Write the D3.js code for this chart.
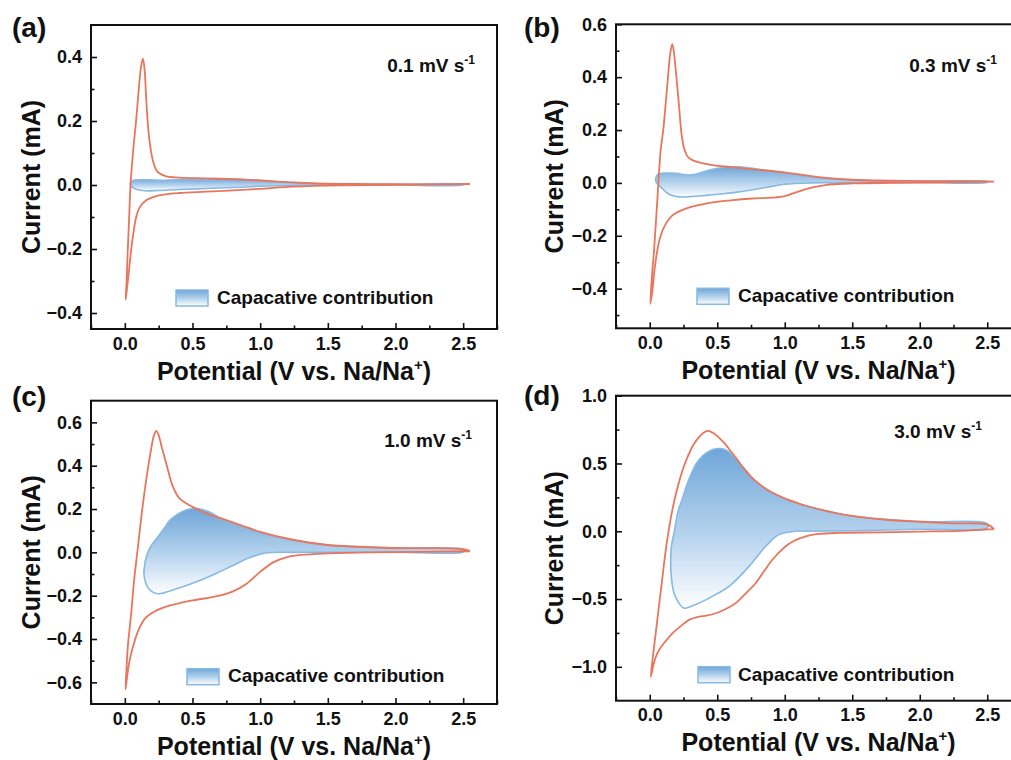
<!DOCTYPE html>
<html>
<head>
<meta charset="utf-8">
<script src="https://cdn.jsdelivr.net/npm/d3@7"></script>
<style>
  html, body { margin: 0; padding: 0; background: #fff; }
  svg { display: block; }
  text { font-family: "Liberation Sans", Arial, sans-serif; font-weight: bold; fill: #111; }
</style>
</head>
<body>
<svg id="chart" width="1011" height="760"></svg>
<script>
// ---------- data: cyclic voltammograms (V vs Na/Na+, mA) ----------
// Full CV loops: cathodic sweep from 2.55 V down to 0 V, then anodic sweep back up.
const cvA = [
  [2.55,0.003],[2.2,0.001],[1.8,0.0],[1.5,-0.002],[1.2,-0.006],[1.0,-0.012],[0.8,-0.017],[0.6,-0.021],
  [0.4,-0.025],[0.3,-0.029],[0.22,-0.036],[0.16,-0.047],[0.11,-0.07],[0.084,-0.1],[0.06,-0.16],
  [0.045,-0.21],[0.03,-0.27],[0.017,-0.32],[0.006,-0.358],
  [0.013,-0.3],[0.022,-0.2],[0.032,-0.1],[0.042,0.0],[0.06,0.1],[0.083,0.2],[0.103,0.3],[0.12,0.37],
  [0.134,0.395],[0.146,0.36],[0.158,0.27],[0.172,0.18],[0.188,0.12],[0.21,0.072],[0.24,0.042],
  [0.3,0.028],[0.4,0.023],[0.6,0.021],[0.8,0.018],[1.0,0.014],[1.2,0.009],[1.4,0.005],[1.8,0.003],
  [2.2,0.002],[2.55,0.003]
];
const cvB = [
  [2.55,0.005],[2.2,0.002],[1.8,0.0],[1.5,-0.002],[1.3,-0.008],[1.2,-0.018],[1.1,-0.033],[1.0,-0.05],
  [0.9,-0.056],[0.76,-0.059],[0.6,-0.066],[0.415,-0.078],[0.267,-0.097],[0.168,-0.123],[0.106,-0.167],
  [0.075,-0.21],[0.056,-0.255],[0.035,-0.33],[0.02,-0.407],[0.004,-0.458],
  [0.018,-0.34],[0.032,-0.255],[0.056,-0.066],[0.081,0.124],[0.1,0.2],[0.118,0.3],[0.135,0.4],
  [0.152,0.49],[0.167,0.525],[0.18,0.49],[0.19,0.44],[0.203,0.37],[0.217,0.29],[0.235,0.187],
  [0.255,0.13],[0.28,0.1],[0.316,0.086],[0.464,0.067],[0.6,0.06],[0.75,0.052],[1.0,0.04],[1.25,0.022],
  [1.5,0.012],[2.0,0.007],[2.5,0.006],[2.55,0.005]
];
const cvC = [
  [2.55,0.005],[2.2,0.002],[1.8,0.0],[1.5,-0.005],[1.3,-0.012],[1.2,-0.022],[1.1,-0.045],[1.0,-0.09],
  [0.9,-0.145],[0.8,-0.18],[0.7,-0.2],[0.5,-0.222],[0.4,-0.235],[0.3,-0.252],[0.2,-0.28],[0.15,-0.305],
  [0.1,-0.36],[0.06,-0.436],[0.035,-0.5],[0.02,-0.56],[0.005,-0.632],
  [0.012,-0.54],[0.022,-0.436],[0.047,-0.28],[0.07,-0.12],[0.097,0.026],[0.125,0.18],[0.158,0.334],
  [0.19,0.46],[0.215,0.54],[0.232,0.561],[0.25,0.54],[0.275,0.48],[0.306,0.41],[0.355,0.303],
  [0.404,0.249],[0.5,0.21],[0.6,0.18],[0.75,0.149],[1.0,0.095],[1.25,0.057],[1.5,0.034],[2.0,0.02],
  [2.5,0.015],[2.55,0.005]
];
const cvD = [
  [2.55,0.015],[2.3,0.003],[2.0,-0.003],[1.7,-0.008],[1.4,-0.012],[1.25,-0.02],[1.156,-0.037],
  [1.07,-0.07],[1.007,-0.111],[0.908,-0.21],[0.85,-0.29],[0.785,-0.382],[0.71,-0.46],[0.637,-0.53],
  [0.56,-0.575],[0.489,-0.605],[0.42,-0.622],[0.365,-0.63],[0.291,-0.654],[0.23,-0.7],[0.168,-0.753],
  [0.11,-0.82],[0.069,-0.876],[0.04,-0.94],[0.02,-1.02],[0.007,-1.075],
  [0.025,-0.91],[0.044,-0.753],[0.066,-0.57],[0.089,-0.382],[0.107,-0.23],[0.126,-0.086],
  [0.146,0.04],[0.168,0.16],[0.2,0.3],[0.25,0.47],[0.29,0.57],[0.326,0.642],[0.37,0.7],[0.425,0.74],
  [0.47,0.725],[0.548,0.655],[0.6,0.59],[0.647,0.53],[0.7,0.46],[0.77,0.383],[0.88,0.3],[1.017,0.235],
  [1.15,0.19],[1.264,0.16],[1.51,0.111],[1.75,0.085],[2.0,0.07],[2.25,0.058],[2.5,0.05],[2.55,0.015]
];

// Capacitive contribution loops (closed outlines).
const capA = [
  [0.04,0.005],[0.06,0.014],[0.15,0.016],[0.3,0.015],[0.5,0.018],[0.7,0.02],[0.9,0.017],[1.1,0.011],
  [1.3,0.006],[1.6,0.003],[2.0,0.002],[2.5,0.002],
  [2.5,0.0],[2.0,0.0],[1.6,0.0],[1.3,-0.001],[1.0,-0.004],[0.8,-0.008],[0.6,-0.011],[0.4,-0.014],
  [0.25,-0.017],[0.15,-0.018],[0.09,-0.014],[0.05,-0.005]
];
const capB = [
  [0.044,0.017],[0.06,0.033],[0.1,0.037],[0.2,0.036],[0.28,0.03],[0.35,0.034],[0.45,0.05],
  [0.55,0.058],[0.66,0.061],[0.8,0.052],[1.0,0.036],[1.25,0.02],[1.5,0.01],[2.0,0.006],[2.5,0.005],
  [2.5,0.002],[2.0,0.002],[1.5,0.0],[1.2,0.0],[1.0,-0.005],[0.85,-0.018],[0.66,-0.034],[0.5,-0.043],
  [0.415,-0.047],[0.3,-0.052],[0.217,-0.053],[0.15,-0.045],[0.118,-0.034],[0.08,-0.015],[0.05,0.0]
];
const capC = [
  [0.142,-0.08],[0.166,-0.005],[0.2,0.035],[0.245,0.072],[0.29,0.11],[0.334,0.149],[0.38,0.172],
  [0.43,0.19],[0.48,0.2],[0.52,0.203],[0.57,0.198],[0.63,0.185],[0.7,0.16],[0.75,0.145],[0.85,0.12],
  [1.0,0.09],[1.25,0.055],[1.5,0.034],[2.0,0.02],[2.5,0.012],
  [2.5,0.002],[2.0,0.001],[1.5,0.0],[1.25,0.0],[1.04,-0.003],[0.92,-0.025],[0.8,-0.06],[0.7,-0.09],
  [0.63,-0.11],[0.5,-0.143],[0.4,-0.165],[0.334,-0.178],[0.27,-0.19],[0.22,-0.188],[0.18,-0.17],
  [0.155,-0.143],[0.143,-0.11]
];
const capD = [
  [0.155,-0.21],[0.162,-0.1],[0.18,-0.012],[0.21,0.15],[0.24,0.235],[0.27,0.33],[0.31,0.43],
  [0.345,0.5],[0.39,0.555],[0.444,0.593],[0.49,0.608],[0.53,0.61],[0.58,0.59],[0.64,0.53],[0.7,0.46],
  [0.77,0.383],[0.88,0.3],[1.017,0.235],[1.264,0.16],[1.51,0.111],[2.0,0.072],[2.5,0.055],
  [2.5,0.025],[2.0,0.015],[1.5,0.004],[1.2,0.0],[1.08,0.0],[0.958,-0.024],[0.859,-0.111],[0.736,-0.259],
  [0.587,-0.407],[0.5,-0.46],[0.415,-0.506],[0.34,-0.54],[0.254,-0.567],[0.21,-0.52],[0.178,-0.45],
  [0.165,-0.382],[0.157,-0.3]
];

// Scan rates shown in each panel
const scanRates = ["0.1", "0.3", "1.0", "3.0"];
const panelLetters = ["(a)", "(b)", "(c)", "(d)"];
const legendLabel = "Capacative contribution";

// Axis ticks
const xMajor = [0.0, 0.5, 1.0, 1.5, 2.0, 2.5];
const xMinor = [-0.25, 0.25, 0.75, 1.25, 1.75, 2.25, 2.75];
const yMajorA = [-0.4, -0.2, 0.0, 0.2, 0.4];
const yMinorA = [-0.3, -0.1, 0.1, 0.3];
const yMajorB = [-0.4, -0.2, 0.0, 0.2, 0.4, 0.6];
const yMinorB = [-0.5, -0.3, -0.1, 0.1, 0.3, 0.5];
const yMajorC = [-0.6, -0.4, -0.2, 0.0, 0.2, 0.4, 0.6];
const yMinorC = [-0.5, -0.3, -0.1, 0.1, 0.3, 0.5];
const yMajorD = [-1.0, -0.5, 0.0, 0.5, 1.0];
const yMinorD = [-0.75, -0.25, 0.25, 0.75];

// ---------- layout ----------
const panels = [
  { cv: cvA, cap: capA, rate: scanRates[0], letter: panelLetters[0], yMaj: yMajorA, yMin: yMinorA,
    box: { l: 91, t: 25, r: 497, b: 329 }, yDom: [-0.45, 0.5],
    letterPos: [12, 37], yTitleX: 40, rateAt: [384, 47], legAt: [85, 265, 126, 279] },
  { cv: cvB, cap: capB, rate: scanRates[1], letter: panelLetters[1], yMaj: yMajorB, yMin: yMinorB,
    box: { l: 616, t: 24.3, r: 1021, b: 328.3 }, yDom: [-0.55, 0.6],
    letterPos: [524, 37], yTitleX: 563, rateAt: [381, 48], legAt: [81, 264, 122, 278] },
  { cv: cvC, cap: capC, rate: scanRates[2], letter: panelLetters[2], yMaj: yMajorC, yMin: yMinorC,
    box: { l: 91, t: 400.7, r: 497, b: 704 }, yDom: [-0.7, 0.7],
    letterPos: [12, 406], yTitleX: 40, rateAt: [381, 46], legAt: [96, 268, 137, 281] },
  { cv: cvD, cap: capD, rate: scanRates[3], letter: panelLetters[3], yMaj: yMajorD, yMin: yMinorD,
    box: { l: 616, t: 395.7, r: 1021, b: 700.7 }, yDom: [-1.25, 1.0],
    letterPos: [524, 405], yTitleX: 563, rateAt: [366, 42], legAt: [82, 271, 122, 285] }
];

const RED = "#e8755c";
const BLUE_EDGE = "#86b9e3";
const fmt = d3.format(".1f");

const svg = d3.select("#chart");
const defs = svg.append("defs");

function addGradient(id) {
  const g = defs.append("linearGradient").attr("id", id)
    .attr("x1", 0).attr("y1", 0).attr("x2", 0).attr("y2", 1);
  g.append("stop").attr("offset", "0%").attr("stop-color", "#6fa6d8");
  g.append("stop").attr("offset", "55%").attr("stop-color", "#b7d4ee");
  g.append("stop").attr("offset", "100%").attr("stop-color", "#ffffff");
}

panels.forEach((p, i) => {
  const { l, t, r, b } = p.box;
  const w = r - l, h = b - t;
  const x = d3.scaleLinear().domain([-0.25, 2.75]).range([0, w]);
  const y = d3.scaleLinear().domain(p.yDom).range([h, 0]);

  const g = svg.append("g").attr("transform", `translate(${l},${t})`);
  const clipId = "clip" + i;
  defs.append("clipPath").attr("id", clipId).append("rect").attr("width", w).attr("height", h);

  const gradId = "capGrad" + i;
  addGradient(gradId);

  const plot = g.append("g").attr("clip-path", `url(#${clipId})`);

  // capacitive region
  plot.append("path")
    .datum(p.cap)
    .attr("d", d3.line().x(d => x(d[0])).y(d => y(d[1])).curve(d3.curveCatmullRomClosed.alpha(0.5)))
    .attr("fill", `url(#${gradId})`)
    .attr("stroke", BLUE_EDGE)
    .attr("stroke-width", 1.6)
    .attr("stroke-linejoin", "round");

  // measured CV loop
  plot.append("path")
    .datum(p.cv)
    .attr("d", d3.line().x(d => x(d[0])).y(d => y(d[1])).curve(d3.curveCatmullRom.alpha(0.5)))
    .attr("fill", "none")
    .attr("stroke", RED)
    .attr("stroke-width", 1.8)
    .attr("stroke-linejoin", "round");

  // axes: inward ticks
  g.append("g").attr("transform", `translate(0,${h})`)
    .call(d3.axisBottom(x).tickValues(xMajor).tickFormat(fmt).tickSize(-6).tickPadding(8));
  g.append("g").attr("transform", `translate(0,${h})`)
    .call(d3.axisBottom(x).tickValues(xMinor).tickFormat("").tickSize(-3.5));
  g.append("g")
    .call(d3.axisLeft(y).tickValues(p.yMaj).tickFormat(fmt).tickSize(-6).tickPadding(9));
  g.append("g")
    .call(d3.axisLeft(y).tickValues(p.yMin).tickFormat("").tickSize(-3.5));

  g.selectAll(".domain").remove();
  g.selectAll(".tick line").attr("stroke", "#111").attr("stroke-width", 1.6);
  g.selectAll(".tick text")
    .style("font-family", '"Liberation Sans", Arial, sans-serif')
    .style("font-weight", "bold").style("font-size", "18px").attr("fill", "#111");

  // frame
  g.append("rect").attr("width", w).attr("height", h)
    .attr("fill", "none").attr("stroke", "#111").attr("stroke-width", 2);

  // scan-rate label
  const rt = g.append("text").attr("x", p.rateAt[0]).attr("y", p.rateAt[1])
    .attr("text-anchor", "end").style("font-size", "19px");
  rt.append("tspan").text(`${p.rate} mV s`);
  rt.append("tspan").attr("dy", -8).style("font-size", "12px").text("-1");

  // legend
  const [sx, sy, tx, ty] = p.legAt;
  g.append("rect").attr("x", sx).attr("y", sy).attr("width", 32).attr("height", 16)
    .attr("fill", `url(#${gradId})`).attr("stroke", BLUE_EDGE).attr("stroke-width", 1.5);
  g.append("text").attr("x", tx).attr("y", ty).style("font-size", "19px").text(legendLabel);

  // axis titles
  const xt = svg.append("text")
    .attr("x", l + w / 2).attr("y", b + 50.5)
    .attr("text-anchor", "middle").style("font-size", "25px");
  xt.append("tspan").text("Potential (V vs. Na/Na");
  xt.append("tspan").attr("dy", -10).style("font-size", "15px").text("+");
  xt.append("tspan").attr("dy", 10).text(")");

  svg.append("text")
    .attr("transform", `translate(${p.yTitleX},${t + h / 2}) rotate(-90)`)
    .attr("text-anchor", "middle").style("font-size", "25px")
    .text("Current (mA)");

  // panel letter
  svg.append("text").attr("x", p.letterPos[0]).attr("y", p.letterPos[1])
    .style("font-size", "28px").text(p.letter);
});
</script>
</body>
</html>
